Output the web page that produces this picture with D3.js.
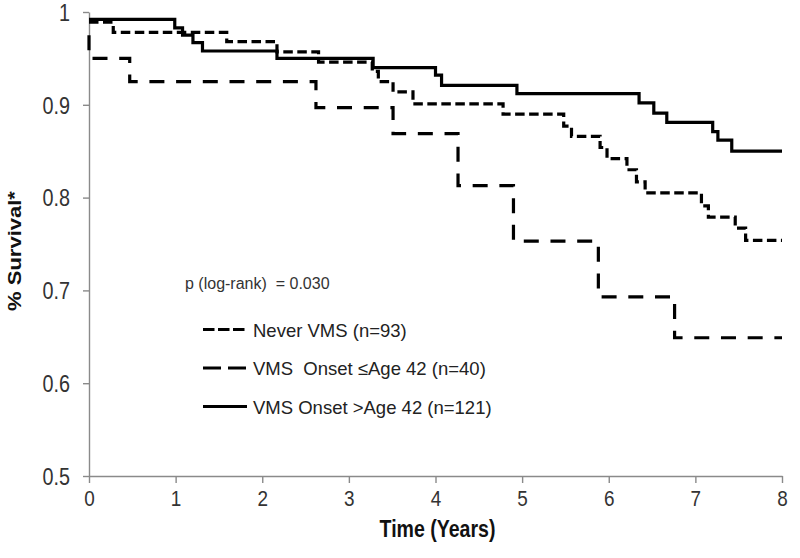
<!DOCTYPE html>
<html><head><meta charset="utf-8">
<script src="https://cdn.jsdelivr.net/npm/d3@7"></script>
<style>body{margin:0;background:#fff}svg{display:block}text{white-space:pre}</style>
</head><body><svg id="c" width="800" height="558"></svg>
<script>
// ---- data ----
const xTickValues = [0, 1, 2, 3, 4, 5, 6, 7, 8];
const yTickValues = [0.5, 0.6, 0.7, 0.8, 0.9, 1.0];
const yTickLabels = ["0.5", "0.6", "0.7", "0.8", "0.9", "1"];
const seriesNames = ["Never VMS (n=93)", "VMS  Onset \u2264Age 42 (n=40)", "VMS Onset >Age 42 (n=121)"];
const followUpEnd = 8;

// Never VMS (short dash)
const neverTimes = [0, 0.28, 1.59, 2.17, 2.65, 3.27, 3.34, 3.51, 3.74, 4.78, 5.48, 5.57, 5.90, 5.98, 6.21, 6.32, 6.42, 7.07, 7.15, 7.46, 7.58];
const neverSurv  = [0.989, 0.978, 0.968, 0.957, 0.946, 0.936, 0.925, 0.914, 0.901, 0.890, 0.877, 0.866, 0.854, 0.842, 0.830, 0.817, 0.805, 0.791, 0.779, 0.767, 0.754];

// VMS onset <= age 42 (long dash)
const earlyTimes = [0, 0, 0.47, 2.62, 3.51, 4.26, 4.90, 5.88, 6.76];
const earlySurv  = [0.975, 0.950, 0.925, 0.897, 0.869, 0.813, 0.753, 0.693, 0.649];

// VMS onset > age 42 (solid)
const lateTimes = [0, 0.99, 1.08, 1.20, 1.31, 2.17, 3.28, 4.00, 4.07, 4.94, 6.35, 6.52, 6.67, 7.20, 7.26, 7.42];
const lateSurv  = [0.992, 0.983, 0.975, 0.967, 0.958, 0.950, 0.940, 0.932, 0.921, 0.912, 0.902, 0.891, 0.881, 0.871, 0.862, 0.850];

const pText = "p (log-rank)  = 0.030";
const xTitle = "Time (Years)";
const yTitle = "% Survival*";

// ---- chart ----
const FONT = "'Liberation Sans', Arial, Helvetica, sans-serif";
const AXIS = "#8a8a8a";
const svg = d3.select("#c");
const x = d3.scaleLinear().domain([0, 8]).range([89, 782]);
const y = d3.scaleLinear().domain([0.5, 1]).range([476, 12]);

// y axis
const gy = svg.append("g").attr("transform", `translate(${x(0)},0)`)
  .call(d3.axisLeft(y).tickValues(yTickValues).tickFormat((d, i) => yTickLabels[i]).tickSize(6).tickSizeOuter(0));
gy.attr("font-size", null).attr("font-family", null);
gy.select(".domain").attr("stroke", AXIS).attr("stroke-width", 1.4);
gy.selectAll(".tick line").attr("stroke", AXIS).attr("stroke-width", 1.4);
gy.selectAll(".tick text").attr("x", null).attr("dy", null)
  .attr("transform", "translate(-19,8.2) scale(0.86,1)")
  .attr("text-anchor", "end")
  .style("font-family", FONT).style("font-size", "23px").attr("fill", "#333");

// x axis
const gx = svg.append("g").attr("transform", `translate(0,${y(0.5)})`)
  .call(d3.axisBottom(x).tickValues(xTickValues).tickFormat(d3.format("d")).tickSize(7).tickSizeOuter(0));
gx.attr("font-size", null).attr("font-family", null);
gx.select(".domain").attr("stroke", AXIS).attr("stroke-width", 1.4);
gx.selectAll(".tick line").attr("stroke", AXIS).attr("stroke-width", 1.4);
gx.selectAll(".tick text").attr("y", null).attr("dy", null)
  .attr("transform", "translate(0,30) scale(0.86,1)")
  .attr("text-anchor", "middle")
  .style("font-family", FONT).style("font-size", "22px").attr("fill", "#333");

// titles
svg.append("text").attr("transform", `translate(${(x(0) + x(8)) / 2 + 2},537) scale(0.85,1)`)
  .attr("text-anchor", "middle").style("font-family", FONT).style("font-size", "23px")
  .style("font-weight", "bold").attr("fill", "#111").text(xTitle);
svg.append("text").attr("transform", `translate(21,251) rotate(-90) scale(1,0.85)`)
  .attr("text-anchor", "middle").style("font-family", FONT).style("font-size", "22px")
  .style("font-weight", "bold").attr("fill", "#111").text(yTitle);

// curves
const line = d3.line().x(d => x(d[0])).y(d => y(d[1])).curve(d3.curveStepAfter);
function steps(T, S) {
  const pts = T.map((t, i) => [t, S[i]]);
  pts.push([followUpEnd, S[S.length - 1]]);
  return pts;
}
const series = [
  { name: seriesNames[1], pts: steps(earlyTimes, earlySurv), dash: "15,11.7", legendDash: "18,7" },
  { name: seriesNames[0], pts: steps(neverTimes, neverSurv), dash: "9.5,4.5", legendDash: "11.5,3.5" },
  { name: seriesNames[2], pts: steps(lateTimes, lateSurv), dash: null, legendDash: null }
];
series.forEach(s => {
  svg.append("path").attr("d", line(s.pts)).attr("fill", "none").attr("stroke", "#000")
    .attr("stroke-width", 3.2).attr("stroke-dasharray", s.dash).attr("stroke-linejoin", "miter");
});

// p text
svg.append("text").attr("x", 185).attr("y", 289).style("font-family", FONT).style("font-size", "16px")
  .attr("fill", "#333").text(pText);

// legend
const legendOrder = [series[1], series[0], series[2]];
const lg = svg.append("g");
legendOrder.forEach((s, i) => {
  const ly = 329.5 + i * 38.5;
  lg.append("line").attr("x1", 203).attr("x2", 247).attr("y1", ly).attr("y2", ly)
    .attr("stroke", "#000").attr("stroke-width", 3.2).attr("stroke-dasharray", s.legendDash);
  lg.append("text").attr("x", 253).attr("y", ly + 7).style("font-family", FONT).style("font-size", "18.5px")
    .attr("fill", "#222").text(s.name);
});
</script></body></html>
